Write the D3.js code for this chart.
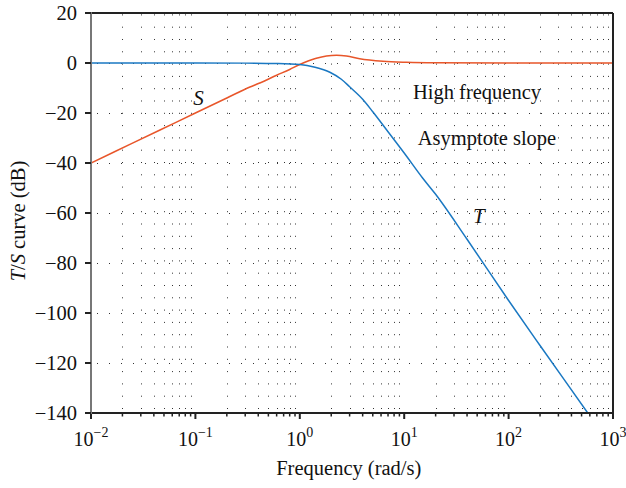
<!DOCTYPE html>
<html>
<head>
<meta charset="utf-8">
<script src="https://cdn.jsdelivr.net/npm/d3@7"></script>
<style>
    body { margin: 0; background: #fff; }
    svg text { font-family: "Liberation Serif", "DejaVu Serif", serif; fill: #111; }
</style>
</head>
<body>
<div id="chart"></div>
<script>
// values (frequency in rad/s, magnitude in dB)
var freqT = [0.01, 0.1, 0.3, 0.6, 1, 1.4, 1.94, 2.5, 3, 4, 5, 7, 10, 15, 20, 40, 100, 200, 573, 1000];
var magT  = [0, 0, -0.05, -0.2, -0.6, -1.7, -3.7, -6.5, -9.5, -14.5, -19.5, -27.5, -36, -46, -52.5, -70.5, -95, -113, -140, -154.5];

var freqS = [0.01, 0.0168, 0.0458, 0.1, 0.2, 0.333, 0.414, 0.6, 0.8, 1, 1.2, 1.44, 1.8, 2.25, 2.8, 3.75, 6.27, 10.5, 20, 100, 1000];
var magS  = [-40, -35.5, -26.8, -20, -14, -9.6, -8.0, -4.9, -2.6, -0.6, 0.8, 1.9, 2.8, 3.1, 2.8, 1.7, 0.7, 0.3, 0.1, 0, 0];

var yTicks = [20, 0, -20, -40, -60, -80, -100, -120, -140];
var xTicks = [1e-2, 1e-1, 1e0, 1e1, 1e2, 1e3];
var xExps = ["\u22122", "\u22121", "0", "1", "2", "3"];

var W = 626, H = 488;
var margin = {top: 13, right: 13, bottom: 75, left: 91};
var width = W - margin.left - margin.right,
    height = H - margin.top - margin.bottom;

var svg = d3.select("#chart").append("svg")
    .attr("width", W)
    .attr("height", H);

var g = svg.append("g")
    .attr("transform", "translate(" + margin.left + "," + margin.top + ")");

var x = d3.scaleLog().domain([1e-2, 1e3]).range([0, width]);
var y = d3.scaleLinear().domain([-140, 20]).range([height, 0]);

// minor frequencies for dotted grid and small ticks
var minor = [];
for (var e = -2; e < 3; e++) {
    for (var k = 2; k < 10; k++) minor.push(k * Math.pow(10, e));
}

// dotted grid
g.append("g").selectAll("line.vg")
    .data(minor).enter().append("line")
    .attr("class", "vg")
    .attr("x1", function(d) { return Math.round(x(d)) + 0.5; })
    .attr("x2", function(d) { return Math.round(x(d)) + 0.5; })
    .attr("y1", height).attr("y2", 0)
    .attr("stroke", "#333")
    .attr("stroke-width", 1)
    .attr("stroke-dasharray", "1,11.3")
    .attr("stroke-dashoffset", -4);

g.append("g").selectAll("line.hg")
    .data(yTicks.filter(function(d) { return d < 20 && d > -140; }))
    .enter().append("line")
    .attr("class", "hg")
    .attr("x1", 0).attr("x2", width)
    .attr("y1", function(d) { return Math.round(y(d)) + 0.5; })
    .attr("y2", function(d) { return Math.round(y(d)) + 0.5; })
    .attr("stroke", "#333")
    .attr("stroke-width", 1)
    .attr("stroke-dasharray", "1,11")
    .attr("stroke-dashoffset", -6);

// curves
g.append("clipPath").attr("id", "clip")
    .append("rect").attr("width", width).attr("height", height);

var line = d3.line()
    .curve(d3.curveMonotoneX)
    .x(function(d) { return x(d[0]); })
    .y(function(d) { return y(d[1]); });

var plot = g.append("g").attr("clip-path", "url(#clip)");

plot.append("path")
    .datum(d3.zip(freqS, magS))
    .attr("fill", "none")
    .attr("stroke", "#e8562a")
    .attr("stroke-width", 1.5)
    .attr("d", line);

plot.append("path")
    .datum(d3.zip(freqT, magT))
    .attr("fill", "none")
    .attr("stroke", "#1a78c2")
    .attr("stroke-width", 1.5)
    .attr("d", line);

// frame
g.append("line").attr("x1", 0).attr("x2", width).attr("y1", 0).attr("y2", 0)
    .attr("stroke", "#222").attr("stroke-width", 2);
g.append("line").attr("x1", width).attr("x2", width).attr("y1", 0).attr("y2", height)
    .attr("stroke", "#222").attr("stroke-width", 2);

// x axis
var xAxis = g.append("g").attr("transform", "translate(0," + height + ")");
xAxis.append("line").attr("x1", -1).attr("x2", width + 1)
    .attr("stroke", "#222").attr("stroke-width", 2);
xAxis.selectAll("line.mj").data(xTicks).enter().append("line")
    .attr("x1", function(d) { return x(d); }).attr("x2", function(d) { return x(d); })
    .attr("y1", 0).attr("y2", 6)
    .attr("stroke", "#222").attr("stroke-width", 2);
xAxis.selectAll("line.mn").data(minor).enter().append("line")
    .attr("x1", function(d) { return x(d); }).attr("x2", function(d) { return x(d); })
    .attr("y1", 0).attr("y2", 3.5)
    .attr("stroke", "#222").attr("stroke-width", 1.5);

var xl = xAxis.selectAll("text.xl").data(xTicks).enter().append("text")
    .attr("x", function(d) { return x(d); })
    .attr("y", 33)
    .attr("text-anchor", "middle")
    .style("font-size", "20px");
xl.append("tspan").text("10");
xl.append("tspan")
    .attr("dy", -9)
    .style("font-size", "14px")
    .text(function(d, i) { return xExps[i]; });

// y axis
var yAxis = g.append("g");
yAxis.append("line").attr("x1", 0).attr("x2", 0).attr("y1", -1).attr("y2", height + 1)
    .attr("stroke", "#777").attr("stroke-width", 2);
yAxis.selectAll("line.yt").data(yTicks).enter().append("line")
    .attr("x1", -6).attr("x2", 0)
    .attr("y1", function(d) { return y(d); }).attr("y2", function(d) { return y(d); })
    .attr("stroke", "#222").attr("stroke-width", 2);
yAxis.selectAll("text.yl").data(yTicks).enter().append("text")
    .attr("x", -14)
    .attr("y", function(d) { return y(d); })
    .attr("dy", "0.33em")
    .attr("text-anchor", "end")
    .style("font-size", "20.5px")
    .text(function(d) { return d3.format("d")(d).replace("-", "\u2212"); });

// axis titles
svg.append("text")
    .attr("x", margin.left + x(1e0) + 49)
    .attr("y", 475)
    .attr("text-anchor", "middle")
    .style("font-size", "20.5px")
    .text("Frequency (rad/s)");

var yt = svg.append("text")
    .attr("transform", "translate(25," + (margin.top + height / 2 + 8) + ") rotate(-90)")
    .attr("text-anchor", "middle")
    .style("font-size", "20.5px");
yt.append("tspan").style("font-style", "italic").text("T");
yt.append("tspan").text("/");
yt.append("tspan").style("font-style", "italic").text("S");
yt.append("tspan").text(" curve (dB)");

// annotations
g.append("text").attr("x", x(0.107)).attr("y", y(-16.8))
    .attr("text-anchor", "middle")
    .style("font-size", "21px").style("font-style", "italic")
    .text("S");
g.append("text").attr("x", x(52)).attr("y", y(-64))
    .attr("text-anchor", "middle")
    .style("font-size", "21px").style("font-style", "italic")
    .text("T");
g.append("text").attr("x", 386).attr("y", 86)
    .attr("text-anchor", "middle")
    .style("font-size", "20.5px")
    .text("High frequency");
g.append("text").attr("x", 396).attr("y", 132)
    .attr("text-anchor", "middle")
    .style("font-size", "20.5px")
    .text("Asymptote slope");
</script>
</body>
</html>
